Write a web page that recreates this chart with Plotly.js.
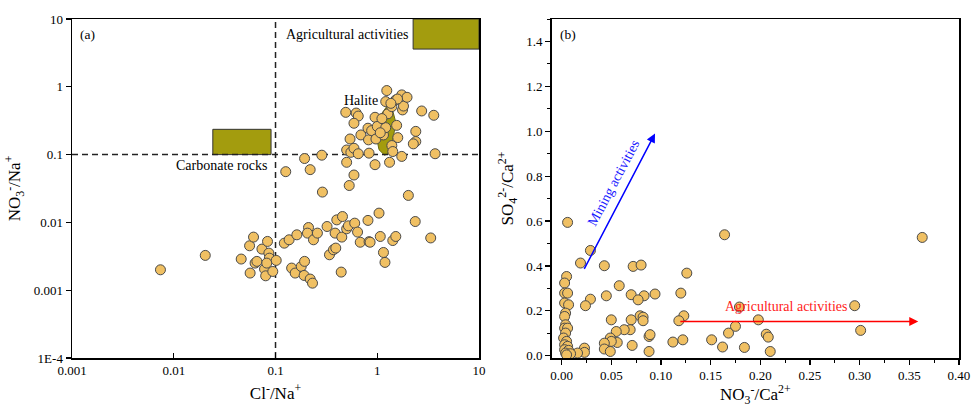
<!DOCTYPE html>
<html><head><meta charset="utf-8">
<script src="https://cdn.plot.ly/plotly-3.0.1.min.js"></script>
<style>html,body{margin:0;padding:0;background:#fff}#c{width:971px;height:407px}</style>
</head><body><div id="c"></div>
<script>
// Panel (a): Cl-/Na+ vs NO3-/Na+
const clNa = [0.49,0.62,0.65,0.59,0.54,0.69,0.50,0.55,0.59,0.65,0.50,0.59,0.53,0.83,0.81,0.82,0.88,0.95,1.0,0.97,0.95,1.15,1.21,1.27,1.21,1.24,1.39,1.52,1.55,1.59,1.39,1.42,1.32,1.74,1.77,1.81,1.74,1.96,1.58,2.73,3.59,2.39,2.39,2.26,3.70,1.11,1.36,1.07,
  0.126,0.193,0.219,0.285,0.289,2.02,
  0.0074,0.0204,0.046,0.0556,0.0608,0.0563,0.063,0.0656,0.0735,0.078,0.080,0.0834,0.086,0.087,0.082,0.094,0.1016,0.122,0.136,0.162,0.144,0.156,0.179,0.193,0.191,0.219,0.231,0.211,0.206,0.236,0.258,0.321,0.339,0.371,0.391,0.40,0.385,0.442,0.455,0.448,0.50,0.52,0.60,0.64,0.68,0.81,0.83,0.85,1.04,1.07,1.15,1.19,1.42,1.52,2.36,3.35];
const no3Na = [0.42,0.41,0.37,0.29,0.17,0.195,0.117,0.108,0.124,0.103,0.077,0.050,0.035,0.105,0.245,0.165,0.226,0.355,0.26,0.17,0.071,0.195,0.25,0.40,0.605,0.88,0.51,0.64,0.27,0.178,0.136,0.111,0.077,0.094,0.456,0.52,0.76,0.70,0.66,0.44,0.38,0.22,0.156,0.144,0.103,0.34,0.57,0.21,
  0.056,0.0875,0.060,0.098,0.028,0.025,
  0.0020,0.00326,0.00288,0.00452,0.00607,0.00179,0.00251,0.00266,0.00404,0.00205,0.00163,0.00524,0.00352,0.00297,0.00251,0.00189,0.00275,0.00494,0.00554,0.00656,0.00212,0.00179,0.00224,0.00266,0.00165,0.00146,0.00127,0.0084,0.00695,0.00554,0.00695,0.0087,0.00333,0.00395,0.00418,0.0109,0.00695,0.00185,0.0122,0.00607,0.00805,0.0089,0.00975,0.0072,0.0051,0.0107,0.0052,0.0051,0.0137,0.0062,0.0036,0.00257,0.0054,0.0062,0.0103,0.0059];

// End-member fields in panel (a)
const agriRectX = [2.25,10,10,2.25,2.25];
const agriRectY = [3.6,3.6,10,10,3.6];
const carbRectX = [0.0242,0.0904,0.0904,0.0242,0.0242];
const carbRectY = [0.1,0.1,0.236,0.236,0.1];
const haliteX = [1.26,1.42,1.52,1.46,1.40,1.32,1.18,1.04,0.99,1.02,1.10,1.26];
const haliteY = [0.53,0.44,0.30,0.20,0.14,0.105,0.098,0.118,0.17,0.27,0.40,0.53];
const refLineA = 0.1;

// Panel (b): NO3-/Ca2+ vs SO4 2-/Ca2+
const no3Ca = [0.006,0.029,0.019,0.043,0.072,0.080,0.164,0.363,0.126,0.058,0.120,0.094,0.083,0.070,0.077,0.045,0.029,0.024,0.005,0.003,0.003,0.006,0.003,0.007,0.004,
  0.123,0.118,0.079,0.082,0.082,0.070,0.050,0.295,0.179,0.198,0.175,0.168,0.206,0.208,0.301,0.151,0.122,0.112,0.162,0.184,0.210,0.088,0.088,0.089,0.071,0.069,0.063,0.055,0.056,0.049,0.050,0.043,0.043,0.049,0.023,0.023,0.016,
  0.003,0.004,0.003,0.006,0.004,0.002,0.005,0.003,0.006,0.003,0.007,0.004,0.009,0.005];
const so4Ca = [0.594,0.469,0.413,0.401,0.398,0.404,0.539,0.527,0.368,0.312,0.279,0.275,0.267,0.272,0.249,0.267,0.252,0.223,0.353,0.324,0.279,0.279,0.235,0.227,0.190,
  0.178,0.156,0.178,0.172,0.156,0.160,0.160,0.223,0.217,0.160,0.131,0.101,0.096,0.083,0.113,0.071,0.071,0.061,0.039,0.037,0.019,0.019,0.086,0.094,0.046,0.116,0.116,0.108,0.059,0.079,0.064,0.056,0.030,0.019,0.034,0.015,0.012,
  0.175,0.138,0.123,0.123,0.101,0.079,0.064,0.049,0.042,0.027,0.024,0.012,0.009,0.004];

// Trend arrows in panel (b): [start, end]
const miningArrowX = [0.022,0.094], miningArrowY = [0.38,0.99];
const agriArrowX = [0.118,0.359], agriArrowY = [0.153,0.153];

const FILL = '#F0C063', EDGE = '#4a4a4a', OLIVE = '#A39C0E';
const FONT = 'Liberation Serif';
const mk = {size:10, color:FILL, line:{color:EDGE, width:1}};

const traces = [
  {x:agriRectX, y:agriRectY, xaxis:'x', yaxis:'y', mode:'lines', fill:'toself', fillcolor:OLIVE, line:{color:'#333', width:1}, hoverinfo:'skip'},
  {x:carbRectX, y:carbRectY, xaxis:'x', yaxis:'y', mode:'lines', fill:'toself', fillcolor:OLIVE, line:{color:'#333', width:1}, hoverinfo:'skip'},
  {x:haliteX, y:haliteY, xaxis:'x', yaxis:'y', mode:'lines', fill:'toself', fillcolor:OLIVE, line:{color:'#6b6a10', width:1}, hoverinfo:'skip'},
  {x:[refLineA,refLineA], y:[1e-4,10], xaxis:'x', yaxis:'y', mode:'lines', line:{color:'#222', width:1.5, dash:'6px,4px'}, hoverinfo:'skip'},
  {x:[0.001,10], y:[refLineA,refLineA], xaxis:'x', yaxis:'y', mode:'lines', line:{color:'#222', width:1.5, dash:'6px,4px'}, hoverinfo:'skip'},
  {x:clNa, y:no3Na, xaxis:'x', yaxis:'y', mode:'markers', marker:mk},
  {x:no3Ca, y:so4Ca, xaxis:'x2', yaxis:'y2', mode:'markers', marker:mk}
];

function base(){ return {showline:true, linecolor:'#000', linewidth:1.5, mirror:true, showgrid:false, zeroline:false,
  tickfont:{family:FONT, size:13, color:'#000'}, ticklen:5, tickwidth:1.2, tickcolor:'#000'}; }
const titleFont = {family:FONT, size:17, color:'#000'};

const layout = {
  width:971, height:407, margin:{l:72, r:12, t:19, b:49}, showlegend:false,
  paper_bgcolor:'#fff', plot_bgcolor:'#fff', font:{family:FONT, size:13, color:'#000'},
  xaxis: Object.assign(base(), {domain:[0,0.4589], type:'log', range:[-3,1], ticks:'inside',
    tickmode:'array', tickvals:[0.001,0.01,0.1,1,10], ticktext:['0.001','0.01','0.1','1','10'],
    title:{text:'Cl<sup>-</sup>/Na<sup>+</sup>', font:titleFont, standoff:10}}),
  yaxis: Object.assign(base(), {type:'log', range:[-4,1], ticks:'outside',
    tickmode:'array', tickvals:[1e-4,0.001,0.01,0.1,1,10], ticktext:['1E-4','0.001','0.01','0.1','1','10'],
    title:{text:'NO<sub>3</sub><sup>-</sup>/Na<sup>+</sup>', font:titleFont, standoff:8}}),
  xaxis2: Object.assign(base(), {domain:[0.5408,1], anchor:'y2', range:[-0.01,0.40], ticks:'outside',
    tickmode:'array', tickvals:[0,0.05,0.10,0.15,0.20,0.25,0.30,0.35,0.40], ticktext:['0.00','0.05','0.10','0.15','0.20','0.25','0.30','0.35','0.40'],
    minor:{dtick:0.025, tick0:0, ticks:'outside', ticklen:3, tickcolor:'#000', tickwidth:1},
    title:{text:'NO<sub>3</sub><sup>-</sup>/Ca<sup>2+</sup>', font:titleFont, standoff:8}}),
  yaxis2: Object.assign(base(), {anchor:'x2', range:[-0.01,1.5], ticks:'outside',
    tickmode:'array', tickvals:[0,0.2,0.4,0.6,0.8,1.0,1.2,1.4], ticktext:['0.0','0.2','0.4','0.6','0.8','1.0','1.2','1.4'],
    minor:{dtick:0.1, tick0:0, ticks:'outside', ticklen:3, tickcolor:'#000', tickwidth:1},
    title:{text:'SO<sub>4</sub><sup>2-</sup>/Ca<sup>2+</sup>', font:titleFont, standoff:8}}),
  annotations: [
    {xref:'paper', yref:'paper', x:0.0172, y:0.955, text:'(a)', showarrow:false, font:{family:FONT, size:13.5}, xanchor:'center', yanchor:'middle'},
    {xref:'paper', yref:'paper', x:0.3097, y:0.955, text:'Agricultural activities', showarrow:false, font:{family:FONT, size:14}, xanchor:'center', yanchor:'middle'},
    {xref:'paper', yref:'paper', x:0.3258, y:0.761, text:'Halite', showarrow:false, font:{family:FONT, size:14}, xanchor:'center', yanchor:'middle'},
    {xref:'paper', yref:'paper', x:0.1688, y:0.569, text:'Carbonate rocks', showarrow:false, font:{family:FONT, size:14}, xanchor:'center', yanchor:'middle'},
    {xref:'paper', yref:'paper', x:0.5589, y:0.955, text:'(b)', showarrow:false, font:{family:FONT, size:13.5}, xanchor:'center', yanchor:'middle'},
    {xref:'paper', yref:'paper', x:0.611, y:0.517, text:'Mining activities', textangle:-62, showarrow:false, font:{family:FONT, size:14, color:'#1a1aff'}, xanchor:'center', yanchor:'middle'},
    {xref:'paper', yref:'paper', x:0.805, y:0.151, text:'Agricultural activities', showarrow:false, font:{family:FONT, size:14, color:'#ff1a1a'}, xanchor:'center', yanchor:'middle'},
    {xref:'x2', yref:'y2', axref:'x2', ayref:'y2', x:miningArrowX[1], y:miningArrowY[1], ax:miningArrowX[0], ay:miningArrowY[0], text:'', showarrow:true, arrowhead:2, arrowsize:1.2, arrowwidth:1.5, arrowcolor:'#0000ff'},
    {xref:'x2', yref:'y2', axref:'x2', ayref:'y2', x:agriArrowX[1], y:agriArrowY[1], ax:agriArrowX[0], ay:agriArrowY[0], text:'', showarrow:true, arrowhead:2, arrowsize:1.2, arrowwidth:1.5, arrowcolor:'#ff0000'}
  ]
};
Plotly.newPlot('c', traces, layout, {staticPlot:true, displayModeBar:false});
</script></body></html>
